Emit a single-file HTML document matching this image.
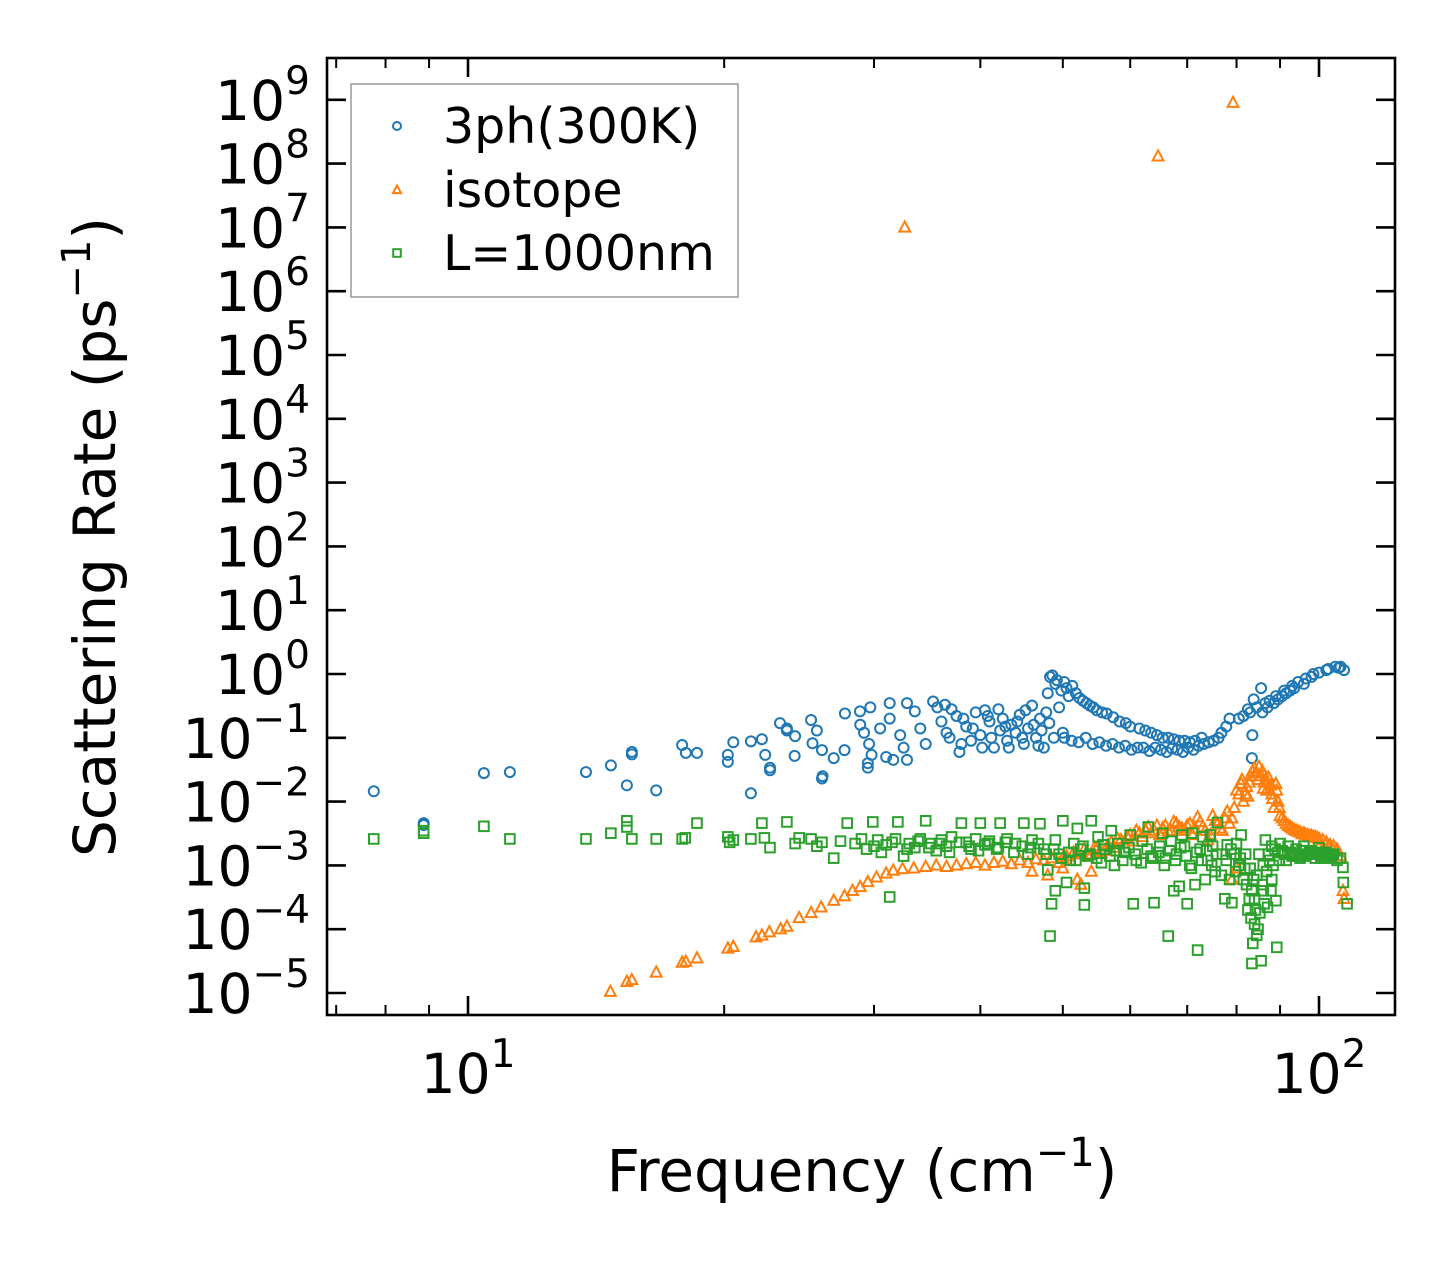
<!DOCTYPE html>
<html><head><meta charset="utf-8"><style>
html,body{margin:0;padding:0;background:#fff;}
svg{display:block;font-family:"DejaVu Sans","Liberation Sans",sans-serif;}
</style></head><body>
<svg id="chart" width="1455" height="1265" viewBox="0 0 1455 1265" xmlns="http://www.w3.org/2000/svg">
<rect width="1455" height="1265" fill="#fff"/>
<g id="marks"></g>
<g id="axes"></g>
</svg>
<script>
// ---- data: 3ph (300K) ----
const blueF=[
7.75,8.87,8.87,10.44,11.2,13.76,14.72,15.37,15.58,15.58,
16.64,17.85,18.03,18.58,20.2,20.2,20.5,21.5,21.5,22.15,
22.35,22.64,22.64,23.26,23.7,23.7,24.23,24.2,25.3,25.7,
25.4,26.06,26.9,26.06,26.1,27.7,27.73,28.88,29.5,29.5,
29.7,28.9,29.2,29.8,29.6,30.5,31.3,31.3,31,31.6,
32.8,32.8,32.2,32.5,33.5,34,34.5,35.2,35.6,36.35,
36,36.8,37.5,37.8,38.5,39,39.5,40,40.5,41,
41.5,42.2,42.5,43,43.5,44,44.5,45,45.5,46,
46.5,47,47.5,48,48.3,48.6,49,49.5,50,50.5,
83.4,83.5,85.5,83.8];
const blueR=[
.0145,.0046,.0043,.028,.029,.029,.037,.018,.055,.06,
.015,.077,.058,.058,.054,.042,.085,.088,.0135,.095,
.054,.031,.034,.17,.14,.13,.106,.052,.19,.13,
.082,.064,.048,.023,.025,.064,.24,.26,.034,.04,
.30,.16,.12,.054,.08,.14,.35,.2,.05,.045,
.35,.045,.11,.07,.26,.14,.08,.37,.3,.33,
.18,.1,.22,.06,.15,.09,.25,.11,.27,.18,
.07,.13,.2,.09,.16,.12,.23,.08,.14,.32,
.1,.2,.07,.5,.9,.95,.7,.3,.12,.6,
.048,.11,.6,.4];
const blueF2=[
36.5,37,38,38.2,39.2,40.2,40.8,41.2,42,42.8,
43.2,44.2,44.8,45.2,46.2,46.8,47.2,47.8,48.2,48.8,
49.2,49.8,50.2,50.8,51.3,51.8,52.3,52.8,53.3,53.8,
54.3,54.8,55.6,56.3,57.3,58.3,59.3,60,61.5,62.5,
63.5,64.5,65.5,66.5,67.5,68.5,69.5,70.5,71.5,72.8,
50.2,51.2,52.2,53.2,54.2,55.2,56.2,57.2,58.2,59.2,
60.2,61.2,62.2,63.2,64.2,65.2,66.2,67.2,68.2,69.2,
70.2,71.2,72.2,73.2,74.2,75.2,76.2,76.8,77.8,78.5,
80.5,81.5,82.5,83,84.5,85.8,86.5,87,87.5,88.5,
89,89.5,90.5,91,91.5,92.5,93,93.5,94.5,96,
96.5,98,98.5,100,102,102.5,104.5,105.5,106,107];
const blueR2=[
.12,.28,.08,.2,.14,.07,.22,.1,.28,.15,
.07,.18,.1,.27,.16,.075,.13,.25,.17,.1,
.8,.55,.75,.45,.65,.5,.42,.38,.35,.32,
.3,.27,.25,.24,.21,.18,.17,.15,.14,.13,
.12,.11,.1,.1,.095,.09,.09,.085,.09,.1,
.1,.09,.085,.1,.08,.085,.075,.08,.07,.075,
.065,.07,.07,.062,.07,.065,.06,.068,.065,.06,
.07,.065,.075,.08,.085,.09,.1,.12,.15,.2,
.2,.22,.28,.25,.3,.25,.35,.3,.38,.35,
.45,.4,.45,.55,.5,.55,.65,.6,.75,.7,
.85,.9,1.0,1.05,1.15,1.2,1.3,1.25,1.3,1.15];
// ---- data: isotope ----
const orangeF=[32.6,64.7,79.25,14.7,15.37,15.58,16.64,17.85,18.03,18.58,20.2,20.5,21.8,22.15,22.6,23.3,23.7,24.5,25.3,26,26.9,27.7,28.3,28.9,29.5,30.2,31,31.6,32.4,33.4,34.5,35.5,36.5,37.5,38.5,39.5,40.5,41.5,42.5,43.5,44.5,45.5,46.5,47.5,48.5,49.5,50.5,51.5,52.5,53,54,55,56,57,58,59,60,61,62,63,64,65,66,67,68,69,70,71,72,73,74,75,76,77,78,79,80,81,81.5,82,83,84,85,85.5,86,87,88,88.5,89,89.5,90,91,92,93,94,95,96,97,98,99,100,101,102,103,104,105,106,106.7,107,80,79,82.5,84.5,86.5,87.5];
const orangeR=[1e7,1.3e8,9e8,1.05e-5,1.5e-5,1.6e-5,2.1e-5,3e-5,3.1e-5,3.5e-5,5e-5,5.3e-5,7.5e-5,8e-5,9e-5,1e-4,1.1e-4,1.5e-4,1.8e-4,2.2e-4,2.8e-4,3.3e-4,4e-4,4.6e-4,5.5e-4,6.5e-4,7.5e-4,8.3e-4,8.8e-4,9e-4,9.5e-4,1e-3,9.5e-4,1e-3,1.05e-3,1.1e-3,1e-3,1.1e-3,1.15e-3,1.05e-3,1.2e-3,1.1e-3,1.25e-3,1.2e-3,1.3e-3,1.1e-3,1.4e-3,1.6e-3,5e-4,1.8e-3,1.5e-3,2e-3,1.7e-3,2.3e-3,2.6e-3,2.2e-3,3e-3,3.5e-3,2.8e-3,4e-3,3.5e-3,3e-3,4.2e-3,3.5e-3,4.5e-3,3.8e-3,4.2e-3,3e-3,5.7e-3,4e-3,2.5e-3,6e-3,4.5e-3,3.5e-3,7e-3,5.5e-3,1.5e-2,1.9e-2,1e-2,1.3e-2,2.5e-2,3.3e-2,3.5e-2,2.5e-2,1.6e-2,2e-2,1.3e-2,8e-3,1.9e-2,1e-2,6e-3,5e-3,4.2e-3,3.8e-3,3.5e-3,3.3e-3,3.2e-3,3e-3,2.9e-3,2.8e-3,2.6e-3,2.5e-3,2.3e-3,2.1e-3,2e-3,1.8e-3,1.4e-3,4e-4,3e-4,9e-4,6e-4,1.2e-2,2.8e-2,2.2e-2,1.5e-2];
const orangeF2=[
50,51,52,53.5,54.5,55.5,56.5,57.5,58.5,59.5,
60.5,61.5,62.5,63.5,64.5,65.5,66.5,67.5,68.5,69.5,
70.5,71.5,72.5,73.5,74.5,75.5,76.5,77.5,78.5,79.5,
80.5,81.2,82.2,82.8,83.5,84.2,84.8,85.8,86.2,86.8,
87.2,87.8,88.2,89.2,89.8,90.5,91.5,92.5,93.5,94.5,
46,48,50,52,54,95.5,96.5,97.5,98.5,99.5];
const orangeR2=[
1.3e-3,1.2e-3,1.5e-3,1.4e-3,1.9e-3,1.6e-3,2.1e-3,1.9e-3,2.5e-3,2.8e-3,
2.4e-3,3.2e-3,3.6e-3,3.2e-3,4.2e-3,3.8e-3,3.4e-3,4.8e-3,4e-3,3.5e-3,
4.5e-3,3.8e-3,4.8e-3,3.5e-3,3e-3,5e-3,3.8e-3,5.5e-3,4.5e-3,8e-3,
1.3e-2,2.2e-2,1.7e-2,2e-2,3e-2,2.8e-2,2.2e-2,3e-2,2e-2,1.5e-2,
2.4e-2,1.8e-2,1.1e-2,1.5e-2,8e-3,5.5e-3,4.5e-3,4e-3,3.6e-3,3.4e-3,
8e-4,7e-4,9e-4,6e-4,8e-4,3.1e-3,3e-3,2.9e-3,2.8e-3,2.7e-3];
// ---- data: boundary L=1000nm ----
const greenF=[7.75,8.87,8.87,10.44,11.2,13.76,14.72,15.37,15.37,15.58,16.64,17.85,18.0,18.58,20.2,20.3,20.5,21.5,22.15,22.3,22.64,23.7,24.23,24.5,25.3,25.7,26.06,26.9,27.4,27.9,28.5,29,29.4,29.9,30.3,30.6,31.3,31,31.8,32,32.5,33,33.5,34,34.5,35,35.5,36,36.5,37,38,38.5,39,39.5,40,40.5,41,42,42.2,43,44,45,45.5,46,47,47.5,48,48.3,48.5,49,49,49.5,50,50.5,51,51.5,52,52.5,53,53,53.5,54,55,55.5,56,57,57.5,58,59,60,60.5,61,62,63,63.5,64,65,65.5,66,66.5,67,67.5,68,68.5,69,69.5,70,70.5,71,71.5,72,72.5,73,73.5,74,74.5,75,75.5,76,77,77.5,78,78.5,79,79.5,80,80.5,81,81.5,82,82.5,83,83.4,83.4,83.6,84,84,84.5,84.5,85,85.2,85.5,86,86,86.5,87,87.5,88,88,89.2,89,89.5,90,91,92,93,94,95,96,97,98,99,100,101,102,103,104,105,106,106.7,106.8,107.9];
const greenR=[2.6e-3,3.2e-3,3.5e-3,4.1e-3,2.6e-3,2.6e-3,3.2e-3,5e-3,4e-3,2.6e-3,2.6e-3,2.6e-3,2.7e-3,4.6e-3,2.8e-3,2.3e-3,2.5e-3,2.6e-3,4.6e-3,2.7e-3,1.9e-3,4.8e-3,2.2e-3,2.7e-3,2.6e-3,2e-3,2.3e-3,1.3e-3,2.4e-3,4.6e-3,2.2e-3,2.6e-3,1.8e-3,4.8e-3,2.5e-3,1.6e-3,3.2e-4,2.1e-3,2.6e-3,4.8e-3,1.4e-3,2.2e-3,1.9e-3,2.6e-3,5e-3,2.2e-3,1.7e-3,2.5e-3,2e-3,2.8e-3,4.6e-3,2.3e-3,1.8e-3,2.6e-3,4.6e-3,2.1e-3,2.4e-3,1.9e-3,4.6e-3,2.6e-3,2.2e-3,4.6e-3,1.5e-3,2.5e-3,4.5e-3,1.8e-3,8.5e-4,7.8e-5,2.5e-4,4e-4,2.5e-3,1.5e-3,5e-3,5.4e-4,1.2e-3,2.2e-3,3.8e-3,1.8e-3,4.4e-4,2.4e-4,1.4e-3,5e-3,2.8e-3,1.1e-3,1.8e-3,3.5e-3,1e-3,2.2e-3,1.6e-3,3e-3,2.5e-4,1.2e-3,2.4e-3,4e-3,1.4e-3,2.6e-4,2e-3,3.2e-3,1.3e-3,7.8e-5,2.4e-3,4e-4,1.5e-3,4.7e-4,3e-3,2e-3,2.5e-4,1e-3,3.2e-3,5e-4,4.7e-5,1.8e-3,2.8e-3,6e-4,1.2e-3,3e-3,2e-3,8e-4,4.7e-3,1.5e-3,3e-4,2.1e-3,6e-4,2.6e-4,1.5e-3,2.2e-3,1e-3,3e-3,6e-4,1.5e-3,2e-4,9e-4,4e-4,2.9e-5,6e-5,1.2e-4,3e-4,8e-5,7e-4,1.5e-3,1.8e-4,3.2e-5,4e-4,1e-3,2.5e-3,2.2e-4,1.2e-3,6e-4,2e-3,5.2e-5,2.8e-4,1.6e-3,2.2e-3,1.5e-3,2e-3,1.4e-3,1.8e-3,1.3e-3,2e-3,1.5e-3,1.7e-3,1.3e-3,1.9e-3,1.4e-3,1.6e-3,1.3e-3,1.5e-3,1.2e-3,1.3e-3,9.3e-4,5.4e-4,2.5e-4];
const greenF2=[
30,31.5,32.8,33.8,34.8,35.8,36.8,37.8,38.8,39.8,
40.8,41.8,42.8,43.8,44.8,45.8,46.8,47.8,48.8,49.8,
50.8,51.8,52.8,53.8,54.8,55.8,56.8,57.8,58.8,59.8,
60.8,61.8,62.8,63.8,64.8,65.8,66.8,67.8,68.8,69.8,
70.8,71.8,72.8,73.8,74.8,75.8,76.8,77.8,78.8,79.8,
80.8,81.8,82.2,82.8,83.2,83.8,84.2,84.8,85.8,86.2,
86.8,87.2,87.8,88.3,88.8,89.8,90.5,91.5,92.5,93.5,
94.5,95.5,96.5,97.5,98.5,99.5,100.5,101.5,102.5,103.5];
const greenR2=[
2e-3,2.3e-3,1.8e-3,2.4e-3,1.9e-3,2.2e-3,1.6e-3,2.3e-3,2e-3,1.7e-3,
2.2e-3,1.8e-3,2.3e-3,1.6e-3,2e-3,1.9e-3,2.2e-3,1.5e-3,1.8e-3,1.3e-3,
1.6e-3,1.2e-3,2e-3,1.5e-3,1.3e-3,2.1e-3,1.4e-3,1.7e-3,1.2e-3,1.9e-3,
1.5e-3,1.1e-3,1.8e-3,1.3e-3,1.6e-3,1e-3,1.7e-3,1.2e-3,1.9e-3,1.4e-3,
9e-4,1.6e-3,1.2e-3,1.7e-3,1e-3,1.5e-3,7e-4,1.2e-3,1.8e-3,8e-4,
1.3e-3,9e-4,5e-4,3e-4,1.5e-4,6e-4,2e-4,1e-4,5e-4,2.5e-4,
8e-4,1.5e-3,4e-4,1e-3,1.8e-3,1.2e-3,1.7e-3,1.2e-3,1.6e-3,1.5e-3,
1.4e-3,1.7e-3,1.4e-3,1.6e-3,1.5e-3,1.6e-3,1.3e-3,1.5e-3,1.4e-3,1.4e-3];
const yTickExps=[-5,-4,-3,-2,-1,0,1,2,3,4,5,6,7,8,9];
const xMajorTicks=[10,100];
const xMajorLabels=["1","2"];
const xMinorTicks=[7,8,9,20,30,40,50,60,70,80,90];
const legendLabels=["3ph(300K)","isotope","L=1000nm"];

// ---- axis functions ----
const L=327,R=1395,T=58,B=1015;
const xScale=f=>468+851*Math.log10(f/10);
const yScale=r=>674-63.8*Math.log10(r);
const NS="http://www.w3.org/2000/svg";
function mk(tag,attrs,parent){const e=document.createElementNS(NS,tag);for(const k in attrs)e.setAttribute(k,attrs[k]);parent.appendChild(e);return e;}
const marks=document.getElementById('marks');
const axes=document.getElementById('axes');
const SW=2;
function circle(g,x,y,c,r){return mk('circle',{cx:x,cy:y,r:r||5,fill:'none',stroke:c,'stroke-width':SW},g);}
function tri(g,x,y,c,s){s=s||6;return mk('polygon',{points:`${x},${y-s} ${x-s*0.9},${y+s*0.7} ${x+s*0.9},${y+s*0.7}`,fill:'none',stroke:c,'stroke-width':SW},g);}
function sq(g,x,y,c,s){s=s||4.8;return mk('rect',{x:x-s,y:y-s,width:2*s,height:2*s,fill:'none',stroke:c,'stroke-width':SW},g);}

const gB=mk('g',{},marks);


const gO=mk('g',{},marks);


const gG=mk('g',{},marks);


function plot(F,Rr,fn,g,c,name){
  const n=Math.min(F.length,Rr.length);
  for(let i=0;i<n;i++){
    const e=fn(g,xScale(F[i]),yScale(Rr[i]),c);
    
    
  }
}
plot(blueF,blueR,circle,gB,'#1f77b4','point-3ph');
plot(blueF2,blueR2,circle,gB,'#1f77b4','point-3ph');
plot(orangeF,orangeR,tri,gO,'#ff7f0e','point-isotope');
plot(orangeF2,orangeR2,tri,gO,'#ff7f0e','point-isotope');
plot(greenF,greenR,sq,gG,'#2ca02c','point-boundary');
plot(greenF2,greenR2,sq,gG,'#2ca02c','point-boundary');

// ---- axes frame & ticks ----
const frame=mk('rect',{x:L,y:T,width:R-L,height:B-T,fill:'none',stroke:'#000','stroke-width':2.6},axes);


yTickExps.forEach(p=>{const y=yScale(Math.pow(10,p));
mk('line',{x1:L,x2:L+19,y1:y,y2:y,stroke:'#000','stroke-width':2.6},axes);
mk('line',{x1:R,x2:R-19,y1:y,y2:y,stroke:'#000','stroke-width':2.6},axes);
const t=mk('text',{x:310,y:y+20,'text-anchor':'end','font-size':55,fill:'#000'},axes);


const a=mk('tspan',{},t);a.textContent='10';
const b=mk('tspan',{dy:-26,'font-size':39},t);b.textContent=(p<0?'\u2212':'')+Math.abs(p);
});
xMajorTicks.forEach((f,i)=>{const x=xScale(f);
mk('line',{x1:x,x2:x,y1:B,y2:B-19,stroke:'#000','stroke-width':2.6},axes);
mk('line',{x1:x,x2:x,y1:T,y2:T+19,stroke:'#000','stroke-width':2.6},axes);
const t=mk('text',{x:x,y:1093,'text-anchor':'middle','font-size':55,fill:'#000'},axes);


const a=mk('tspan',{},t);a.textContent='10';
const b=mk('tspan',{dy:-26,'font-size':39},t);b.textContent=xMajorLabels[i];
});
xMinorTicks.forEach(f=>{const x=xScale(f);
mk('line',{x1:x,x2:x,y1:B,y2:B-10,stroke:'#000','stroke-width':2},axes);
mk('line',{x1:x,x2:x,y1:T,y2:T+10,stroke:'#000','stroke-width':2},axes);
});
// axis titles
const xt=mk('text',{x:862,y:1191,'text-anchor':'middle','font-size':58,fill:'#000'},axes);


{const a=mk('tspan',{},xt);a.textContent='Frequency (cm';const b=mk('tspan',{dy:-25,'font-size':40},xt);b.textContent='\u22121';const c=mk('tspan',{dy:25},xt);c.textContent=')';}
const yt=mk('text',{x:0,y:0,transform:'translate(115,537) rotate(-90)','text-anchor':'middle','font-size':58,fill:'#000'},axes);


{const a=mk('tspan',{},yt);a.textContent='Scattering Rate (ps';const b=mk('tspan',{dy:-25,'font-size':40},yt);b.textContent='\u22121';const c=mk('tspan',{dy:25},yt);c.textContent=')';}

// ---- legend ----
const lg=mk('g',{},axes);


mk('rect',{x:351,y:84,width:387,height:213,fill:'#fff','fill-opacity':0.8,stroke:'#999','stroke-width':1.5},lg);
const lgY=[126,190,253];
legendLabels.forEach((s,i)=>{
const e=mk('g',{},lg);


const y=lgY[i];
if(i===0)circle(e,397,y,'#1f77b4',4);
if(i===1)tri(e,397,y,'#ff7f0e',4.5);
if(i===2)sq(e,397,y,'#2ca02c',3.8);
const t=mk('text',{x:443,y:y+17,'font-size':49,fill:'#000'},e);t.textContent=s;
});
</script>
</body></html>
